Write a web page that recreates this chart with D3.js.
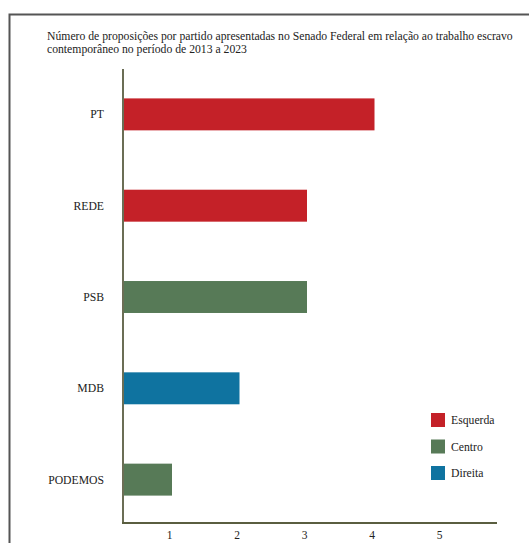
<!DOCTYPE html>
<html><head><meta charset="utf-8">
<script src="https://cdn.jsdelivr.net/npm/d3@7"></script>
<style>body{margin:0;background:#fff}svg{display:block}svg text{font-family:"Liberation Serif","DejaVu Serif",serif !important;fill:#222}</style>
</head><body>
<script>
const parties = ["PT","REDE","PSB","MDB","PODEMOS"];
const values = [4,3,3,2,1];
const groups = ["Esquerda","Esquerda","Centro","Direita","Centro"];
const legendLabels = ["Esquerda","Centro","Direita"];
const legendColors = ["#c42128","#577a57","#0f73a0"];
const tickValues = [1,2,3,4,5];
const titleLines = ["Número de proposições por partido apresentadas no Senado Federal em relação ao trabalho escravo","contemporâneo no período de 2013 a 2023"];

const W=529,H=543;
const FF='"Liberation Serif","DejaVu Serif",serif';
const svg=d3.select("body").append("svg").attr("width",W).attr("height",H);
svg.append("path").attr("d","M9.5,543 V14.5 H529").attr("fill","none").attr("stroke","#555").attr("stroke-width",2);

svg.selectAll("text.title").data(titleLines).join("text").attr("class","title")
  .attr("x",47).attr("y",(d,i)=>40+i*13).attr("font-size",11.7).attr("font-family",FF).text(d=>d);

const axisX=124, axisY=523;
const x=d3.scaleLinear().domain([0,5]).range([104.5,442]);
const y=d3.scaleBand().domain(parties).range([71,523]).paddingInner(0.65).paddingOuter(0.3);
const color=d3.scaleOrdinal().domain(legendLabels).range(legendColors);

svg.selectAll("rect.bar").data(parties).join("rect").attr("class","bar")
  .attr("x",axisX).attr("y",d=>y(d)).attr("height",y.bandwidth())
  .attr("width",(d,i)=>x(values[i])-axisX).attr("fill",(d,i)=>color(groups[i]));

svg.selectAll("text.cat").data(parties).join("text").attr("class","cat")
  .attr("x",104).attr("y",d=>y(d)+y.bandwidth()/2+4).attr("text-anchor","end").attr("font-size",11.7).attr("font-family",FF).text(d=>d);

svg.append("line").attr("x1",123).attr("x2",123).attr("y1",69).attr("y2",axisY+1).attr("stroke","#6b6e55").attr("stroke-width",2);
svg.append("line").attr("x1",122).attr("x2",497).attr("y1",axisY).attr("y2",axisY).attr("stroke","#5a5e40").attr("stroke-width",2);

const xa=d3.axisBottom(x).tickValues(tickValues).tickSize(0).tickPadding(0).tickFormat(d3.format("d"));
const g=svg.append("g").attr("transform",`translate(-3,${axisY+8})`).call(xa);
g.attr("font-family",FF).attr("font-size",11.5);
g.select(".domain").remove();
g.selectAll("text").attr("fill","#222").attr("dy","0.71em");

const lg=svg.selectAll("g.leg").data(legendLabels).join("g").attr("class","leg")
  .attr("transform",(d,i)=>`translate(431,${413+i*26.5})`);
lg.append("rect").attr("width",14).attr("height",14).attr("fill",d=>color(d));
lg.append("text").attr("x",20).attr("y",11).attr("font-size",11.7).attr("font-family",FF).text(d=>d);
</script>
</body></html>
